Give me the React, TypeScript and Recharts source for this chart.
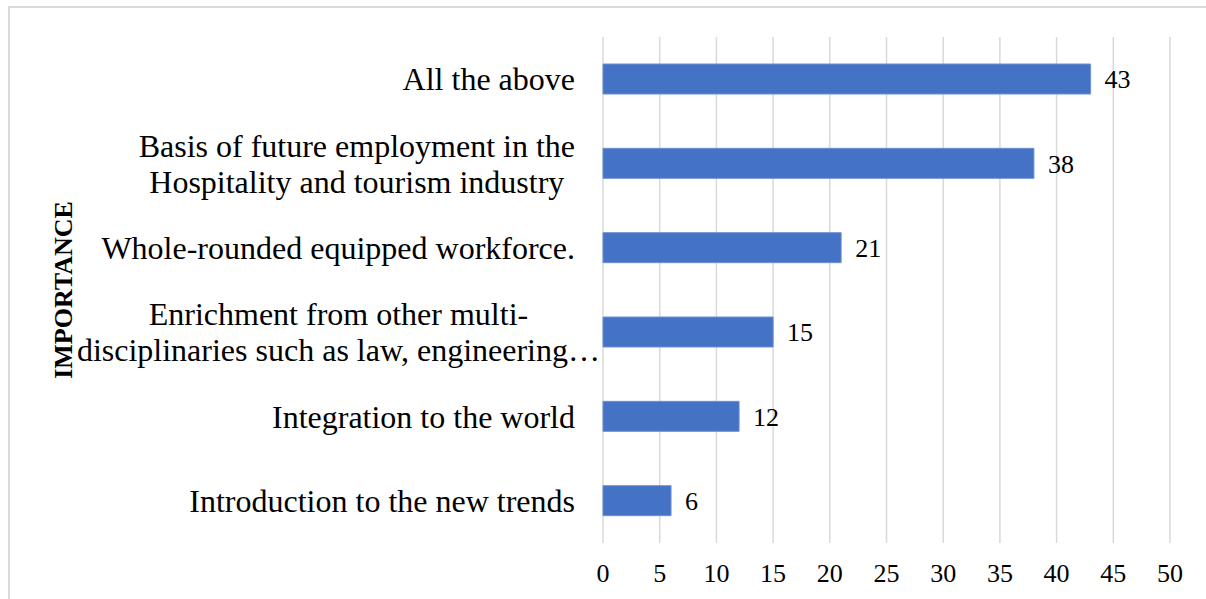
import React from "react";
import { BarChart, Bar, XAxis, YAxis, CartesianGrid, LabelList } from "recharts";

// top-to-bottom order, as in the picture
const categories = [
  "All the above",
  "Basis of future employment in the\nHospitality and tourism industry",
  "Whole-rounded equipped workforce.",
  "Enrichment from other multi-\ndisciplinaries such as law, engineering…",
  "Integration to the world",
  "Introduction to the new trends",
];
const counts = [43, 38, 21, 15, 12, 6];
const xTicks = [0, 5, 10, 15, 20, 25, 30, 35, 40, 45, 50];
const axisTitle = "IMPORTANCE";

const FONT = "'Liberation Serif', 'Times New Roman', serif";
const LABEL_SIZE = 32;
const LINE_HEIGHT = 36;

const data = categories.map((name, i) => ({ name, value: counts[i] }));

let ctx: CanvasRenderingContext2D | null = null;
function measure(text: string): number {
  if (!ctx) ctx = document.createElement("canvas").getContext("2d");
  if (!ctx) return text.length * LABEL_SIZE * 0.45;
  ctx.font = `${LABEL_SIZE}px 'Liberation Serif'`;
  return ctx.measureText(text).width;
}

function CategoryTick({ x, y, payload }: any) {
  const lines: string[] = String(payload.value).split("\n");
  const top = y - ((lines.length - 1) * LINE_HEIGHT) / 2;
  if (lines.length === 1) {
    return (
      <text x={x} y={y} textAnchor="end" dominantBaseline="central" fontFamily={FONT} fontSize={LABEL_SIZE} fill="#000">
        {lines[0]}
      </text>
    );
  }
  // excel centres wrapped lines inside the label block (ellipsis spills over)
  const blockW = Math.max(...lines.map((l) => measure(l.replace(/…$/, ""))));
  const spill = lines.some((l) => l.endsWith("…")) ? 9 : 0;
  const cx = x - blockW / 2 + spill;
  return (
    <text textAnchor="middle" fontFamily={FONT} fontSize={LABEL_SIZE} fill="#000">
      {lines.map((l, i) => (
        <tspan key={i} x={cx} y={top + i * LINE_HEIGHT} dominantBaseline="central">
          {l}
        </tspan>
      ))}
    </text>
  );
}

function AxisTitle({ viewBox }: any) {
  const tx = viewBox.x + 63;
  const ty = viewBox.y + viewBox.height / 2;
  return (
    <text
      transform={`translate(${tx},${ty}) rotate(-90)`}
      textAnchor="middle"
      dominantBaseline="central"
      fontFamily={FONT}
      fontSize={26}
      fontWeight="bold"
      fill="#000"
    >
      {axisTitle}
    </text>
  );
}

export default function App() {
  return (
    <div style={{ position: "absolute", left: 0, top: 0, width: 1206, height: 599, overflow: "hidden", background: "#fff" }}>
      <div
        style={{
          position: "absolute",
          left: 8,
          top: 6,
          width: 1300,
          height: 700,
          border: "2px solid #d9d9d9",
        }}
      />
      <div style={{ position: "absolute", left: 0, top: 0 }}>
        <BarChart
          width={1206}
          height={599}
          data={data}
          layout="vertical"
          margin={{ top: 37, right: 36, bottom: 0, left: 0 }}
        >
          <CartesianGrid horizontal={false} vertical stroke="#d9d9d9" strokeWidth={1.5} />
          <XAxis
            type="number"
            domain={[0, 50]}
            ticks={xTicks}
            interval={0}
            height={56}
            axisLine={false}
            tickLine={false}
            tickMargin={15}
            tick={{ fontSize: 26, fill: "#000", fontFamily: FONT }}
          />
          <YAxis
            type="category"
            dataKey="name"
            width={603}
            axisLine={false}
            tickLine={false}
            tickMargin={22}
            interval={0}
            tick={<CategoryTick />}
            label={{ content: <AxisTitle /> }}
          />
          <Bar
            dataKey="value"
            fill="#4472C4"
            stroke="#6f8fd3"
            strokeWidth={1}
            barSize={30}
            isAnimationActive={false}
          >
            <LabelList
              dataKey="value"
              position="right"
              offset={14}
              fill="#000"
              fontSize={26}
              fontFamily={FONT}
            />
          </Bar>
        </BarChart>
      </div>
    </div>
  );
}
